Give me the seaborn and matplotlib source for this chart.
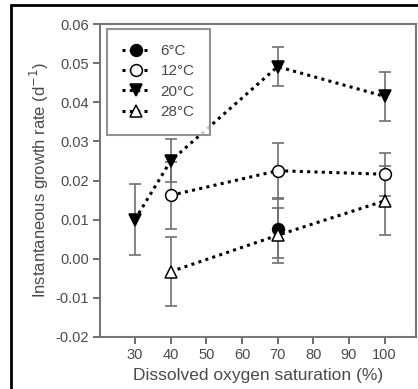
import matplotlib
matplotlib.use("Agg")
import matplotlib.pyplot as plt
from matplotlib.lines import Line2D
import seaborn as sns
import pandas as pd

# Dissolved oxygen saturation levels (%) and growth rates (d^-1) per temperature
temps = ["6°C", "12°C", "20°C", "28°C"]

x_6 = [70]
y_6 = [0.0077]
e_6 = [0.0075]

x_12 = [40, 70, 100]
y_12 = [0.0162, 0.0225, 0.0216]
e_12 = [0.0086, 0.0070, 0.0055]

x_20 = [30, 40, 70, 100]
y_20 = [0.0100, 0.0250, 0.0491, 0.0415]
e_20 = [0.0090, 0.0055, 0.0050, 0.0062]

x_28 = [40, 70, 100]
y_28 = [-0.0033, 0.0060, 0.0148]
e_28 = [0.0088, 0.0070, 0.0088]

x_ticks = [30, 40, 50, 60, 70, 80, 90, 100]
y_ticks = [-0.02, -0.01, 0.00, 0.01, 0.02, 0.03, 0.04, 0.05, 0.06]

series = [
    (temps[0], x_6, y_6, e_6, "o", "black"),
    (temps[1], x_12, y_12, e_12, "o", "white"),
    (temps[2], x_20, y_20, e_20, "v", "black"),
    (temps[3], x_28, y_28, e_28, "^", "white"),
]

sns.set_style("ticks")
plt.rcParams["font.family"] = ["Liberation Sans", "DejaVu Sans"]

fig = plt.figure(figsize=(4.18, 3.89), dpi=100)
ax = fig.add_axes([100 / 418, 1 - 337 / 389, 316 / 418, 313 / 389])

grey = "#555555"
text_c = "#4a4a4a"

# error bars first so markers sit on top
for name, xs, ys, es, mk, fc in series:
    ax.errorbar(xs, ys, yerr=es, fmt="none", ecolor="#707070",
                elinewidth=1.2, capsize=4, capthick=1.2, zorder=2)

for name, xs, ys, es, mk, fc in series:
    df = pd.DataFrame({"x": xs, "y": ys})
    sns.lineplot(data=df, x="x", y="y", ax=ax, color="black",
                 linestyle=(0, (1, 1.4)), linewidth=2.2,
                 marker=mk, markersize=8.5 if mk == "o" else 9,
                 markerfacecolor=fc, markeredgecolor="black",
                 markeredgewidth=1.1, label=name, zorder=3)

ax.set_xlim(20.2, 108.8)
ax.set_ylim(-0.02, 0.06)
ax.set_xticks(x_ticks)
ax.set_yticks(y_ticks)
ax.set_yticklabels([f"{v:.2f}" for v in y_ticks])
ax.tick_params(axis="both", direction="out", length=5, width=1.2,
               color=grey, labelcolor=text_c, labelsize=10.5, pad=3)
for s in ax.spines.values():
    s.set_color("#777777")
    s.set_linewidth(1.5)

ax.set_xlabel("Dissolved oxygen saturation (%)", fontsize=12.5,
              color=text_c, labelpad=4)
ax.set_ylabel("Instantaneous growth rate (d$^{-1}$)", fontsize=12,
              color=text_c, labelpad=3)

leg = ax.legend(loc="upper left", bbox_to_anchor=(0.022, 0.985),
                frameon=True, fancybox=False, edgecolor="#777777",
                fontsize=11, handlelength=1.8, handletextpad=0.7,
                labelspacing=0.42, borderpad=1.0, borderaxespad=0)
leg.get_frame().set_linewidth(1.5)
for t in leg.get_texts():
    t.set_color(text_c)

# outer frame lines along top and left
fig.add_artist(Line2D([11 / 418, 1], [1 - 5 / 389, 1 - 5 / 389],
                      transform=fig.transFigure, color="black", lw=2))
fig.add_artist(Line2D([11 / 418, 11 / 418], [0, 1 - 5 / 389],
                      transform=fig.transFigure, color="black", lw=2))

fig.savefig("out.png", dpi=100)
